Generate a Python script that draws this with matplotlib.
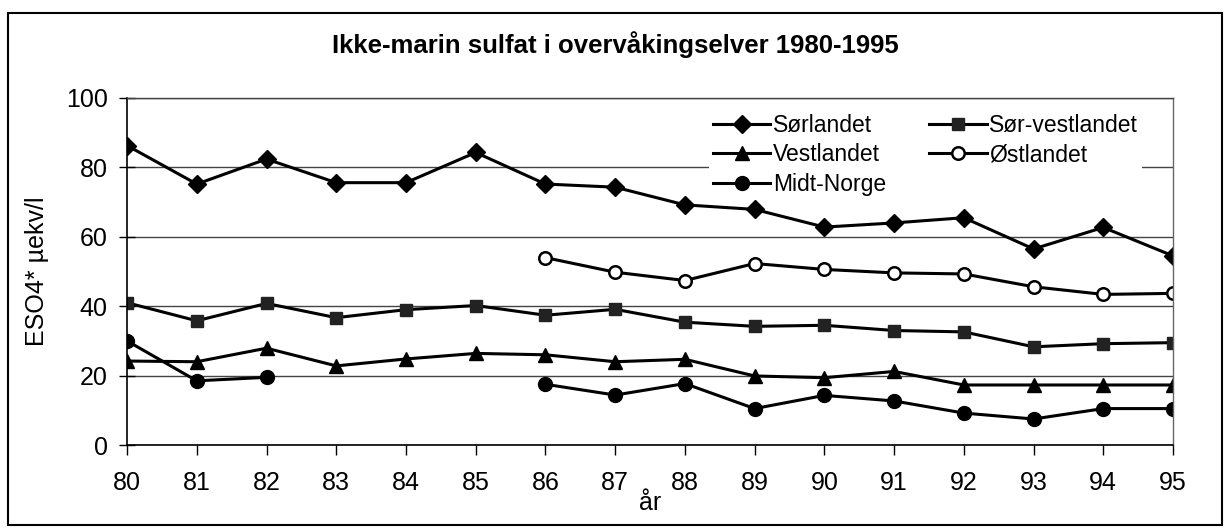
import numpy as np
import matplotlib.pyplot as plt
from matplotlib.patches import Rectangle

plt.rcParams['font.family'] = ['Liberation Sans', 'DejaVu Sans']

# ==================== DATA ====================
years = list(range(80, 96))
year_labels = [str(y) for y in years]

nan = np.nan
sorlandet = [86.3, 75.2, 82.4, 75.6, 75.6, 84.3, 75.2, 74.3, 69.2, 67.9, 62.8, 64.0, 65.5, 56.5, 62.7, 54.5]
sor_vestlandet = [41.0, 35.8, 40.8, 36.7, 39.0, 40.2, 37.4, 39.1, 35.4, 34.2, 34.5, 33.0, 32.6, 28.3, 29.2, 29.5]
vestlandet = [24.2, 24.0, 27.9, 22.8, 24.8, 26.4, 26.0, 24.0, 24.7, 19.9, 19.4, 21.2, 17.3, 17.3, 17.3, 17.3]
ostlandet = [nan, nan, nan, nan, nan, nan, 54.0, 49.8, 47.4, 52.3, 50.6, 49.6, 49.3, 45.6, 43.4, 43.7]
midt_norge = [30.0, 18.5, 19.5, nan, nan, nan, 17.5, 14.4, 17.7, 10.5, 14.3, 12.7, 9.2, 7.5, 10.5, 10.5]

# ==================== PLOT ====================
fig = plt.figure(figsize=(12.31, 5.32), dpi=100)
ax = fig.add_axes([0.1032, 0.1635, 0.8497, 0.6523])

line_kw = dict(color='black', linewidth=2.2)
h_sor, = ax.plot(years, sorlandet, marker='D', markersize=9, markerfacecolor='black',
                 markeredgecolor='black', label='Sørlandet', **line_kw)
h_sv, = ax.plot(years, sor_vestlandet, marker='s', markersize=9, markerfacecolor='#222222',
                markeredgecolor='#222222', label='Sør-vestlandet', **line_kw)
h_ve, = ax.plot(years, vestlandet, marker='^', markersize=10, markerfacecolor='black',
                markeredgecolor='black', label='Vestlandet', **line_kw)
h_os, = ax.plot(years, ostlandet, marker='o', markersize=9, markerfacecolor='white',
                markeredgecolor='black', markeredgewidth=1.8, label='Østlandet', **line_kw)
h_mn, = ax.plot(years, midt_norge, marker='o', markersize=10, markerfacecolor='black',
                markeredgecolor='black', label='Midt-Norge', **line_kw)

ax.set_xlim(80, 95)
ax.set_ylim(0, 100)
ax.set_xticks(years)
ax.set_xticklabels(year_labels)
ax.set_yticks([0, 20, 40, 60, 80, 100])
ax.yaxis.grid(True, color='#444444', linewidth=1.0)
ax.set_axisbelow(True)

ax.tick_params(axis='x', direction='out', length=7, width=1, pad=12, labelsize=18)
ax.tick_params(axis='y', direction='inout', length=12, width=1, pad=8, labelsize=18)

for side in ['left', 'bottom']:
    ax.spines[side].set_color('black')
    ax.spines[side].set_linewidth(1.2)
ax.spines['right'].set_color('#666666')
ax.spines['right'].set_linewidth(1.0)
ax.spines['top'].set_color('#444444')
ax.spines['top'].set_linewidth(1.0)

ax.set_ylabel('ESO4* µekv/l', fontsize=18, labelpad=12)
ax.set_xlabel('år', fontsize=18, labelpad=-3)

# legend filled column-wise, so order the handles to read row by row
handles = [h_sor, h_ve, h_mn, h_sv, h_os]
leg = ax.legend(handles=handles, labels=[h.get_label() for h in handles],
                loc='upper left', bbox_to_anchor=(0.545, 1.0), ncol=2,
                frameon=True, fontsize=16.5, handlelength=2.5, handletextpad=0.1,
                columnspacing=1.9, labelspacing=0.28, borderpad=0.2)
leg.get_frame().set_edgecolor('none')
leg.get_frame().set_facecolor('white')
leg.get_frame().set_alpha(1.0)

fig.text(0.5, 0.900, 'Ikke-marin sulfat i overvåkingselver 1980-1995',
         ha='center', va='baseline', fontsize=18.5, fontweight='bold')

# outer frame around the whole chart
fig.patches.append(Rectangle((0.0065, 0.013), 0.986, 0.962, transform=fig.transFigure,
                             fill=False, edgecolor='black', linewidth=1.5))

plt.savefig('out.png', dpi=100)
plt.close()
